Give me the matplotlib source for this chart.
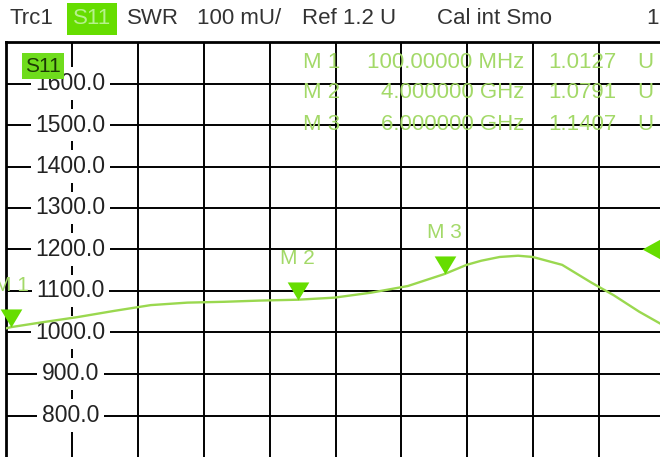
import matplotlib
matplotlib.use("Agg")
import matplotlib.pyplot as plt
from matplotlib.path import Path
from matplotlib.transforms import blended_transform_factory

plt.rcParams['font.family'] = ['Liberation Sans', 'DejaVu Sans']

# trace S11 (SWR, shown in mU), frequency in GHz
freq_ghz = [0.03, 0.1, 0.5, 1.0, 1.5, 2.0, 2.5, 3.0, 3.5, 4.0, 4.5, 5.0, 5.5,
            6.0, 6.3, 6.5, 6.75, 7.0, 7.2, 7.6, 8.0, 8.3, 8.65, 9.0]
swr_mu = [1010, 1013, 1024, 1037, 1052, 1066, 1072, 1074, 1077, 1079, 1084,
          1096, 1112, 1141, 1163, 1173, 1182, 1185, 1182, 1163, 1120, 1090,
          1050, 1015]

# markers
marker_names = ["M 1", "M 2", "M 3"]
marker_freq = [0.1, 4.0, 6.0]
marker_val = [1012.7, 1079.1, 1140.7]
marker_freq_txt = ["100.00000 MHz", "4.000000 GHz", "6.000000 GHz"]
marker_val_txt = ["1.0127", "1.0791", "1.1407"]

y_ticks = [800, 900, 1000, 1100, 1200, 1300, 1400, 1500, 1600]
ref_level = 1200
f_start, f_stop = 0.03, 9.0

W, H = 660, 457
trace_col = '#9ad84f'
mark_col = '#66dd00'
txt_green = '#a3d968'

fig = plt.figure(figsize=(W / 100, H / 100), dpi=100)
ax = fig.add_axes([6 / W, 0, 659 / W, (H - 42) / H])
ax.set_xlim(f_start, f_stop)
ax.set_ylim(700, 1700)
ax.set_xticks([])
ax.set_yticks([])
for s in ['left', 'top']:
    ax.spines[s].set_linewidth(2)
    ax.spines[s].set_color('black')
for s in ['right', 'bottom']:
    ax.spines[s].set_visible(False)

div = (f_stop - f_start) / 10
for k in range(1, 10):
    ax.axvline(f_start + k * div, color='black', lw=1.4, zorder=1)
for v in y_ticks:
    ax.axhline(v, color='black', lw=1.4, zorder=1)

# y labels sit on the first vertical grid line
x_lab = f_start + div
for v in y_ticks:
    ax.text(x_lab - 0.02, v, f"{v:.1f}", ha='center', va='center', fontsize=16.5,
            color='#222222', zorder=3,
            bbox=dict(fc='white', ec='none', boxstyle='square,pad=0.2'))

ax.plot(freq_ghz, swr_mu, color=trace_col, lw=1.7, zorder=4)

# down triangles with tip on the trace
tri_down = Path([(-0.6, 1.0), (0.6, 1.0), (0.0, 0.0), (-0.6, 1.0)])
ax.plot(marker_freq, marker_val, linestyle='none', marker=tri_down,
        markersize=26, color=mark_col, markeredgewidth=0, zorder=5, clip_on=False)
for name, f, v in zip(marker_names, marker_freq, marker_val):
    ax.annotate(name, (f, v), xytext=(0, 30), textcoords='offset points',
                ha='center', va='center', fontsize=15, color=txt_green, zorder=5)

# reference level triangle at right edge
tri_left = Path([(0.0, 0.0), (1.0, -0.55), (1.0, 0.55), (0.0, 0.0)])
tr = blended_transform_factory(ax.transAxes, ax.transData)
ax.plot([0.965], [ref_level], transform=tr, linestyle='none', marker=tri_left,
        markersize=30, color=mark_col, markeredgewidth=0, zorder=5, clip_on=False)

# S11 label in diagram (top-left corner)
ax.text((43 - 6) / 659, 1 - 24 / 415, "S11", transform=ax.transAxes,
        ha='center', va='center', fontsize=15, color='#1d3a05', zorder=6,
        bbox=dict(fc='#6fdc1c', ec='none', boxstyle='square,pad=0.15'))

# marker table
def ftxt(x, y, s, **kw):
    fig.text(x / W, 1 - y / H, s, va='center', **kw)

rows_y = [62, 93, 124]
for name, ft, vt, y in zip(marker_names, marker_freq_txt, marker_val_txt, rows_y):
    ftxt(303, y, name, ha='left', fontsize=16, color=txt_green, zorder=6)
    ftxt(524, y, ft, ha='right', fontsize=16, color=txt_green, zorder=6)
    ftxt(548, y, vt, ha='left', fontsize=16, color=txt_green, zorder=6)
    ftxt(637, y, "U", ha='left', fontsize=16, color=txt_green, zorder=6)

# header line
hc = '#333333'
ftxt(10, 19, "Trc1", ha='left', fontsize=16, color=hc)
fig.text(92 / W, 1 - 19 / H, "S11", ha='center', va='center', fontsize=16,
         color='#b6f28c',
         bbox=dict(fc='#66dd00', ec='none', boxstyle='square,pad=0.25'))
ftxt(127, 19, "SWR", ha='left', fontsize=16, color=hc)
ftxt(197, 19, "100 mU/", ha='left', fontsize=16, color=hc)
ftxt(302, 19, "Ref 1.2 U", ha='left', fontsize=16, color=hc)
ftxt(437, 19, "Cal int Smo", ha='left', fontsize=16, color=hc)
ftxt(646, 19, "1", ha='left', fontsize=16, color=hc)

fig.savefig("out.png", dpi=100, facecolor='white')
